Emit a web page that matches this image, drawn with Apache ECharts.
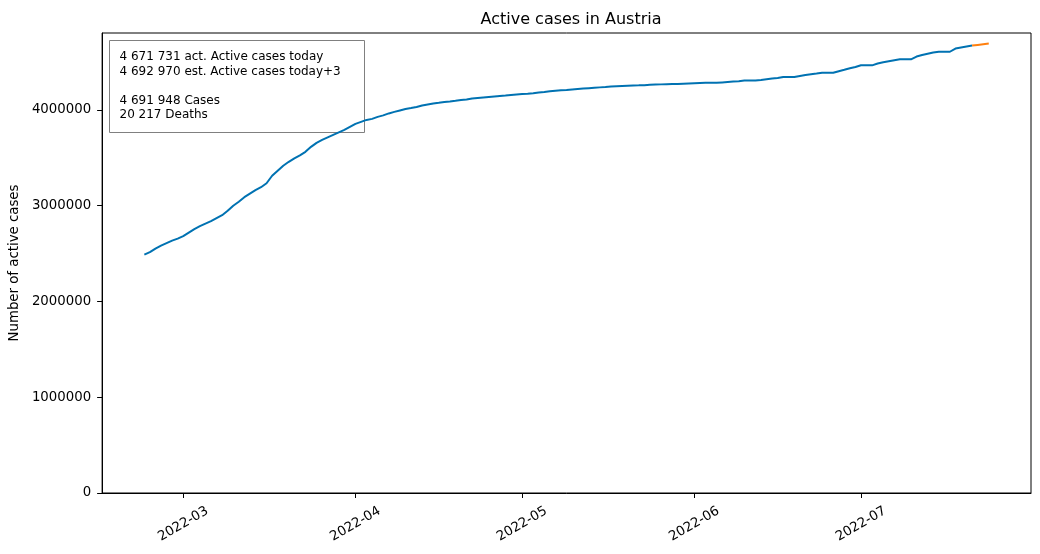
<!DOCTYPE html>
<html>
<head>
<meta charset="utf-8">
<script src="https://cdn.jsdelivr.net/npm/echarts@6/dist/echarts.min.js"></script>
<style>
html,body{margin:0;padding:0;background:#fff;}
#chart{width:1040px;height:554px;}
</style>
</head>
<body>
<div id="chart"></div>
<script>
// ---- data ----
const titleText = 'Active cases in Austria';
const yAxisName = 'Number of active cases';
const startDate = [2022, 1, 22]; // 2022-02-22 (month 0-based), daily values follow
const activeCases = [
  2489600, 2515600, 2552100, 2583300, 2609400, 2635400, 2656300,
  2682300, 2718800, 2755200, 2786500, 2812500, 2838500, 2869800, 2901000, 2947900, 3000000,
  3041700, 3088500, 3125000, 3161500, 3192700, 3234400, 3312500, 3364600, 3416700, 3458300,
  3494800, 3526000, 3562500, 3614600, 3656300, 3687500, 3713500, 3739600, 3765600, 3791700, 3822900,
  3854200, 3875000, 3895800, 3906300, 3927100, 3942700, 3963500, 3979200, 3994800, 4010400,
  4020800, 4031300, 4046900, 4057300, 4067700, 4075000, 4083300, 4088500, 4095800, 4104200,
  4109400, 4119800, 4125000, 4130200, 4135400, 4140600, 4145800, 4151000, 4156300, 4161500,
  4166700, 4169800, 4175000, 4182300, 4187500, 4194800, 4200000, 4204200, 4208300, 4213500,
  4218800, 4222900, 4227100, 4231300, 4235400, 4239600, 4244800, 4247900, 4251000, 4253100,
  4255200, 4256300, 4258300, 4262500, 4264600, 4266700, 4268800, 4269800, 4270800, 4274000, 4277100,
  4279200, 4281300, 4283300, 4283300, 4283300, 4287500, 4291700, 4295800, 4300000, 4306300,
  4306300, 4306300, 4312500, 4319800, 4327100, 4333300, 4343800, 4343800, 4343800, 4354200,
  4364600, 4372900, 4380200, 4388500, 4388500, 4388500, 4404200, 4418800, 4434400, 4447900,
  4465600, 4465600, 4465600, 4484400, 4496900, 4508300, 4518800, 4528100, 4528100, 4528100,
  4557300, 4572900, 4586500, 4599000, 4607300, 4607300, 4607300, 4640600, 4651000, 4661500, 4671731
];
const forecastStart = [2022, 6, 21]; // 2022-07-21
const forecastCases = [4671731, 4679000, 4686000, 4692970];
const xTickDates = ['2022-03-01', '2022-04-01', '2022-05-01', '2022-06-01', '2022-07-01'];
const xTickLabels = ['2022-03', '2022-04', '2022-05', '2022-06', '2022-07'];
const yTicks = [0, 1000000, 2000000, 3000000, 4000000];
const infoLines = [
  '4 671 731 act. Active cases today',
  '4 692 970 est. Active cases today+3',
  '',
  '4 691 948 Cases',
  '20 217 Deaths'
];

// ---- build ----
function dayTs(parts, offset) { return Date.UTC(parts[0], parts[1], parts[2] + offset); }
function parseTs(s) { const p = s.split('-').map(Number); return Date.UTC(p[0], p[1] - 1, p[2]); }
const actData = activeCases.map((v, i) => [dayTs(startDate, i), v]);
const fcData = forecastCases.map((v, i) => [dayTs(forecastStart, i), v]);
const xTickTs = xTickDates.map(parseTs);
const x0 = actData[0][0], x1 = fcData[fcData.length - 1][0];
const xSpan = x1 - x0;
const yMaxData = Math.max(...activeCases, ...forecastCases);
const yMinData = Math.min(...activeCases, ...forecastCases);
const yTop = yMaxData + 0.05 * (yMaxData - yMinData);

const font = 'DejaVu Sans';
const chart = echarts.init(document.getElementById('chart'), null, {renderer: 'canvas'});
chart.setOption({
  animation: false,
  backgroundColor: '#ffffff',
  title: {
    text: titleText,
    left: 566, top: 7, textAlign: 'center',
    textStyle: {fontFamily: font, fontSize: 16, fontWeight: 'normal', color: '#000'}
  },
  grid: {
    left: 102, right: 9, top: 33, bottom: 61,
    show: true, borderColor: '#000', borderWidth: 1, backgroundColor: 'transparent'
  },
  xAxis: {
    type: 'value',
    min: x0 - 0.05 * xSpan,
    max: x1 + 0.05 * xSpan,
    axisLine: {show: true, onZero: false, lineStyle: {color: '#000', width: 1}},
    axisTick: {show: true, length: 5, lineStyle: {color: '#000'}, customValues: xTickTs},
    axisLabel: {
      customValues: xTickTs,
      rotate: 30, align: 'center', verticalAlign: 'middle', margin: 31,
      fontFamily: font, fontSize: 13.3, color: '#000',
      formatter: v => { const i = xTickTs.indexOf(v); return i >= 0 ? xTickLabels[i] : ''; }
    },
    splitLine: {show: false}
  },
  yAxis: {
    type: 'value',
    min: 0, max: yTop,
    name: yAxisName, nameLocation: 'middle', nameGap: 78, nameRotate: 90,
    nameTextStyle: {fontFamily: font, fontSize: 13.3, color: '#000'},
    axisLine: {show: true, lineStyle: {color: '#000', width: 1}},
    axisTick: {show: true, length: 5, lineStyle: {color: '#000'}, customValues: yTicks},
    axisLabel: {
      customValues: yTicks, margin: 11,
      fontFamily: font, fontSize: 13.3, color: '#000',
      formatter: v => String(v)
    },
    splitLine: {show: false}
  },
  series: [
    {type: 'line', data: actData, showSymbol: false, symbol: 'none',
     lineStyle: {color: '#0072B2', width: 2}, z: 2},
    {type: 'line', data: fcData, showSymbol: false, symbol: 'none',
     lineStyle: {color: '#ff7f0e', width: 2}, z: 2}
  ],
  graphic: [{
    type: 'group', left: 109, top: 40, z: 100,
    children: [
      {type: 'rect', shape: {x: 0, y: 0, width: 255, height: 92},
       style: {fill: 'rgba(255,255,255,0.5)', stroke: '#808080', lineWidth: 1}},
      {type: 'text', x: 10, y: 9,
       style: {text: infoLines.join('\n'), fontFamily: font, fontSize: 12, lineHeight: 14.6, fill: '#000'}}
    ]
  }]
});
</script>
</body>
</html>
